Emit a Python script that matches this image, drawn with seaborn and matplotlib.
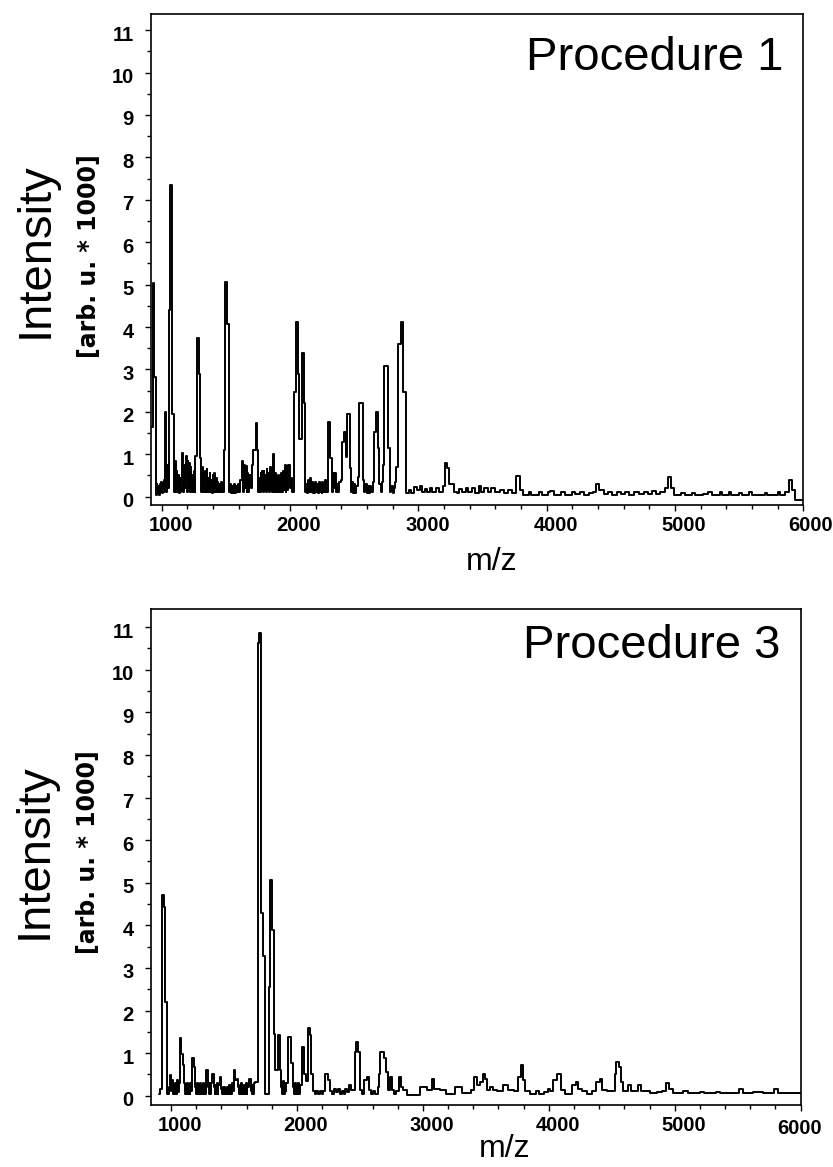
import matplotlib
matplotlib.use("Agg")
import matplotlib.pyplot as plt
import pandas as pd
import seaborn as sns
from matplotlib.ticker import FixedLocator, MultipleLocator
from matplotlib.transforms import ScaledTranslation

# ---------------------------------------------------------------------------
# Spectra as step data: each m/z value starts a bin whose intensity
# (arb. u. * 1000) holds until the next m/z value.
# ---------------------------------------------------------------------------
p1_mz = [
    918, 929, 942, 955, 961, 967, 973, 979, 985, 991,
    997, 1003, 1009, 1015, 1020, 1026, 1031, 1036, 1041, 1048,
    1055, 1068, 1081, 1092, 1099, 1104, 1110, 1116, 1122, 1128,
    1134, 1140, 1146, 1152, 1160, 1166, 1172, 1178, 1184, 1190,
    1196, 1202, 1208, 1214, 1220, 1226, 1232, 1238, 1244, 1250,
    1256, 1262, 1272, 1288, 1301, 1307, 1313, 1319, 1325, 1331,
    1337, 1343, 1349, 1355, 1361, 1367, 1373, 1379, 1385, 1391,
    1397, 1403, 1409, 1415, 1421, 1427, 1433, 1440, 1448, 1456,
    1464, 1472, 1482, 1492, 1508, 1524, 1532, 1540, 1548, 1556,
    1564, 1572, 1580, 1588, 1596, 1604, 1612, 1623, 1630, 1638,
    1646, 1654, 1662, 1668, 1676, 1684, 1692, 1700, 1715, 1734,
    1740, 1752, 1758, 1764, 1770, 1776, 1782, 1788, 1794, 1800,
    1806, 1812, 1818, 1824, 1830, 1836, 1842, 1848, 1854, 1860,
    1868, 1876, 1882, 1888, 1894, 1900, 1906, 1912, 1918, 1924,
    1930, 1936, 1942, 1950, 1958, 1966, 1972, 1980, 1988, 1998,
    2008, 2016, 2029, 2047, 2060, 2073, 2094, 2107, 2120, 2127,
    2134, 2141, 2148, 2155, 2162, 2169, 2176, 2183, 2190, 2197,
    2204, 2211, 2218, 2225, 2232, 2239, 2246, 2253, 2260, 2270,
    2280, 2293, 2310, 2325, 2333, 2341, 2349, 2357, 2365, 2373,
    2381, 2395, 2408, 2421, 2435, 2446, 2465, 2475, 2482, 2490,
    2498, 2506, 2514, 2528, 2539, 2571, 2580, 2588, 2596, 2604,
    2612, 2620, 2630, 2645, 2657, 2670, 2683, 2696, 2706, 2714,
    2723, 2736, 2762, 2780, 2790, 2800, 2810, 2820, 2827, 2840,
    2861, 2880, 2906, 2930, 2945, 2970, 2990, 3010, 3025, 3050,
    3070, 3090, 3110, 3140, 3160, 3190, 3207, 3220, 3241, 3260,
    3280, 3300, 3320, 3340, 3370, 3390, 3420, 3440, 3470, 3490,
    3510, 3540, 3570, 3600, 3640, 3670, 3700, 3730, 3763, 3789,
    3815, 3860, 3880, 3940, 3960, 4010, 4030, 4060, 4110, 4140,
    4200, 4220, 4260, 4290, 4330, 4360, 4385, 4411, 4450, 4480,
    4510, 4550, 4580, 4610, 4640, 4680, 4720, 4760, 4790, 4820,
    4850, 4880, 4920, 4943, 4969, 4990, 5050, 5080, 5130, 5160,
    5220, 5260, 5290, 5350, 5370, 5420, 5440, 5500, 5520, 5580,
    5600, 5640, 5700, 5720, 5800, 5820, 5860, 5889, 5915, 5935,
    6000,
]
p1_int = [
    1.65, 5.03, 2.83, 0.05, 0.30, 0.08, 0.25, 0.05, 0.30, 0.10,
    0.35, 0.08, 0.30, 0.10, 0.40, 2.00, 0.80, 0.10, 0.75, 0.20,
    4.40, 7.34, 1.96, 0.90, 0.10, 0.85, 0.10, 0.60, 0.10, 0.50,
    0.08, 0.45, 0.10, 0.40, 1.02, 0.10, 0.75, 0.20, 0.55, 0.95,
    0.10, 0.85, 0.20, 0.80, 0.10, 0.70, 0.10, 0.50, 0.10, 0.60,
    0.10, 0.95, 3.73, 2.90, 0.90, 0.10, 0.70, 0.10, 0.55, 0.10,
    0.60, 0.10, 0.65, 0.10, 0.45, 0.10, 0.55, 0.10, 0.40, 0.08,
    0.50, 0.10, 0.55, 0.10, 0.45, 0.10, 0.35, 0.10, 0.30, 0.10,
    0.35, 0.10, 1.10, 5.07, 4.08, 0.10, 0.30, 0.08, 0.25, 0.08,
    0.30, 0.08, 0.25, 0.10, 0.30, 0.10, 0.40, 0.85, 0.10, 0.75,
    0.20, 0.72, 0.10, 0.55, 0.10, 0.50, 0.20, 0.75, 1.10, 1.73,
    1.10, 0.10, 0.45, 0.10, 0.55, 0.20, 0.60, 0.10, 0.60, 0.15,
    0.50, 0.10, 0.65, 0.15, 0.55, 0.10, 0.70, 0.15, 0.50, 0.10,
    1.00, 0.10, 0.55, 0.10, 0.45, 0.10, 0.50, 0.10, 0.45, 0.10,
    0.55, 0.10, 0.60, 0.15, 0.75, 0.10, 0.70, 0.15, 0.75, 0.20,
    0.45, 0.10, 2.47, 4.12, 2.90, 1.37, 3.38, 2.20, 0.10, 0.30,
    0.08, 0.40, 0.10, 0.45, 0.10, 0.35, 0.08, 0.30, 0.08, 0.35,
    0.10, 0.30, 0.08, 0.35, 0.10, 0.30, 0.08, 0.35, 0.10, 0.40,
    0.10, 1.77, 0.90, 0.10, 0.55, 0.20, 0.55, 0.10, 0.30, 0.10,
    0.35, 0.40, 1.30, 1.53, 0.94, 1.96, 0.67, 0.10, 0.35, 0.08,
    0.30, 0.08, 0.25, 0.47, 2.20, 0.40, 0.10, 0.30, 0.08, 0.25,
    0.08, 0.25, 0.10, 0.35, 1.53, 2.00, 1.14, 0.30, 0.10, 0.35,
    0.75, 3.08, 1.14, 0.10, 0.25, 0.08, 0.20, 0.35, 0.70, 3.61,
    4.12, 2.47, 0.08, 0.15, 0.08, 0.22, 0.15, 0.25, 0.10, 0.18,
    0.10, 0.20, 0.12, 0.20, 0.10, 0.25, 0.79, 0.67, 0.31, 0.30,
    0.12, 0.08, 0.18, 0.10, 0.20, 0.10, 0.20, 0.08, 0.25, 0.12,
    0.20, 0.10, 0.20, 0.12, 0.16, 0.08, 0.15, 0.08, 0.49, 0.16,
    0.04, 0.10, 0.04, 0.12, 0.04, 0.10, 0.14, 0.04, 0.12, 0.04,
    0.12, 0.06, 0.10, 0.04, 0.08, 0.12, 0.31, 0.16, 0.06, 0.12,
    0.04, 0.10, 0.06, 0.12, 0.05, 0.10, 0.06, 0.12, 0.06, 0.14,
    0.06, 0.12, 0.20, 0.47, 0.20, 0.05, 0.08, 0.04, 0.08, 0.04,
    0.06, 0.12, 0.04, 0.10, 0.04, 0.10, 0.04, 0.08, 0.04, 0.10,
    0.04, 0.04, 0.08, 0.04, 0.10, 0.04, 0.12, 0.39, 0.15, -0.08,
    -0.08,
]

p3_mz = [
    905, 915, 929, 942, 955, 968, 981, 989, 1000, 1008,
    1014, 1020, 1026, 1032, 1038, 1044, 1050, 1056, 1062, 1069,
    1079, 1093, 1106, 1112, 1118, 1124, 1130, 1136, 1142, 1148,
    1154, 1160, 1167, 1180, 1193, 1199, 1205, 1211, 1217, 1223,
    1229, 1235, 1241, 1247, 1253, 1259, 1265, 1271, 1278, 1294,
    1300, 1306, 1312, 1318, 1325, 1339, 1345, 1351, 1357, 1363,
    1369, 1375, 1386, 1400, 1406, 1412, 1418, 1424, 1430, 1436,
    1442, 1448, 1454, 1460, 1466, 1472, 1478, 1484, 1490, 1497,
    1511, 1520, 1534, 1540, 1546, 1552, 1558, 1564, 1570, 1576,
    1582, 1588, 1594, 1600, 1606, 1617, 1635, 1641, 1647, 1653,
    1659, 1669, 1688, 1701, 1714, 1728, 1744, 1775, 1789, 1802,
    1815, 1828, 1847, 1862, 1875, 1882, 1889, 1896, 1903, 1910,
    1916, 1929, 1955, 1968, 1975, 1982, 1989, 1996, 2003, 2010,
    2017, 2024, 2037, 2053, 2070, 2088, 2101, 2114, 2127, 2140,
    2150, 2165, 2180, 2195, 2210, 2225, 2244, 2265, 2280, 2295,
    2310, 2325, 2340, 2355, 2370, 2385, 2400, 2410, 2429, 2458,
    2469, 2482, 2498, 2515, 2535, 2556, 2569, 2585, 2600, 2620,
    2640, 2650, 2662, 2688, 2707, 2720, 2741, 2754, 2770, 2790,
    2807, 2826, 2845, 2873, 2979, 3032, 3072, 3090, 3138, 3180,
    3257, 3310, 3380, 3403, 3427, 3450, 3479, 3492, 3511, 3530,
    3560, 3590, 3638, 3678, 3720, 3757, 3776, 3791, 3810, 3850,
    3900, 3920, 3960, 3990, 4010, 4034, 4066, 4100, 4130, 4180,
    4214, 4232, 4260, 4300, 4340, 4378, 4404, 4425, 4460, 4490,
    4523, 4536, 4554, 4570, 4589, 4628, 4655, 4680, 4708, 4734,
    4800, 4860, 4900, 4932, 4958, 4985, 5064, 5104, 5200, 5230,
    5330, 5360, 5440, 5513, 5540, 5620, 5700, 5790, 5816, 6000,
]
p3_int = [
    0.05, 0.17, 4.71, 4.44, 2.21, 0.05, 0.20, 0.49, 0.10, 0.37,
    0.05, 0.25, 0.05, 0.30, 0.05, 0.25, 0.37, 0.08, 0.30, 1.35,
    0.99, 0.72, 0.29, 0.05, 0.25, 0.05, 0.30, 0.05, 0.20, 0.05,
    0.30, 0.10, 0.88, 0.68, 0.21, 0.05, 0.30, 0.05, 0.25, 0.05,
    0.30, 0.05, 0.25, 0.05, 0.30, 0.05, 0.25, 0.05, 0.60, 0.21,
    0.05, 0.30, 0.05, 0.30, 0.52, 0.20, 0.05, 0.25, 0.05, 0.30,
    0.05, 0.25, 0.45, 0.15, 0.05, 0.20, 0.05, 0.20, 0.05, 0.15,
    0.05, 0.20, 0.05, 0.25, 0.05, 0.25, 0.05, 0.30, 0.10, 0.60,
    0.37, 0.40, 0.20, 0.05, 0.25, 0.05, 0.30, 0.05, 0.20, 0.05,
    0.25, 0.05, 0.30, 0.05, 0.20, 0.40, 0.12, 0.05, 0.25, 0.05,
    0.30, 0.33, 10.63, 10.86, 4.28, 3.27, 0.05, 2.56, 5.07, 3.89,
    1.46, 0.60, 1.43, 0.60, 0.20, 0.05, 0.35, 0.05, 0.30, 0.10,
    0.30, 1.39, 0.76, 0.20, 0.05, 0.30, 0.05, 0.25, 0.05, 0.30,
    0.05, 0.25, 1.15, 0.52, 0.35, 1.58, 1.43, 0.52, 0.10, 0.05,
    0.12, 0.05, 0.10, 0.05, 0.12, 0.52, 0.37, 0.12, 0.05, 0.15,
    0.08, 0.15, 0.05, 0.12, 0.05, 0.15, 0.08, 0.25, 0.13, 1.03,
    1.27, 1.03, 0.13, 0.05, 0.37, 0.45, 0.13, 0.05, 0.10, 0.05,
    0.20, 0.52, 1.03, 0.88, 0.56, 0.13, 0.45, 0.13, 0.05, 0.10,
    0.45, 0.21, 0.13, 0.02, 0.21, 0.13, 0.40, 0.17, 0.13, 0.05,
    0.20, 0.07, 0.13, 0.45, 0.25, 0.33, 0.52, 0.40, 0.13, 0.21,
    0.13, 0.10, 0.25, 0.13, 0.10, 0.45, 0.72, 0.37, 0.10, 0.05,
    0.10, 0.05, 0.08, 0.15, 0.10, 0.37, 0.52, 0.13, 0.05, 0.25,
    0.33, 0.17, 0.10, 0.05, 0.12, 0.33, 0.40, 0.13, 0.10, 0.12,
    0.52, 0.80, 0.68, 0.33, 0.10, 0.25, 0.10, 0.12, 0.25, 0.10,
    0.07, 0.08, 0.10, 0.29, 0.17, 0.07, 0.12, 0.07, 0.09, 0.07,
    0.09, 0.07, 0.07, 0.17, 0.07, 0.08, 0.07, 0.17, 0.07, 0.07,
]

x_ticks = [1000, 2000, 3000, 4000, 5000, 6000]
x_tick_labels = ["1000", "2000", "3000", "4000", "5000", "6000"]
y_ticks = list(range(0, 12))
y_tick_labels = [str(v) for v in y_ticks]
panel_titles = ["Procedure 1", "Procedure 3"]

# ---------------------------------------------------------------------------
sns.set_theme(style="ticks")
plt.rcParams["font.family"] = ["Liberation Sans", "DejaVu Sans"]
plt.rcParams["axes.edgecolor"] = "black"

DPI = 100
fig = plt.figure(figsize=(8.33, 11.67), dpi=DPI)
fig.patch.set_facecolor("white")

axes_specs = [
    dict(rect=[0.1809, 0.5673, 0.7834, 0.4207], xlim=(914, 6000), ylim=(-0.196, 11.38),
         ylab=(-0.177, 0.519), brk=(-0.094, 0.506), xlab=(0.522, -0.116), title_y=0.886),
    dict(rect=[0.1809, 0.0531, 0.7803, 0.4248], xlim=(838, 6000), ylim=(-0.218, 11.42),
         ylab=(-0.179, 0.512), brk=(-0.0957, 0.510), xlab=(0.544, -0.089), title_y=0.902),
]
spectra = [(p1_mz, p1_int), (p3_mz, p3_int)]


def shift(label, dx_px, dy_px):
    label.set_transform(label.get_transform()
                        + ScaledTranslation(dx_px / DPI, -dy_px / DPI, fig.dpi_scale_trans))


for i, (spec, (mz, inten), title) in enumerate(zip(axes_specs, spectra, panel_titles)):
    ax = fig.add_axes(spec["rect"])
    df = pd.DataFrame({"m/z": mz, "Intensity": inten})
    sns.lineplot(data=df, x="m/z", y="Intensity", ax=ax, estimator=None,
                 drawstyle="steps-post", color="black", linewidth=1.4)

    ax.set_xlim(*spec["xlim"])
    ax.set_ylim(*spec["ylim"])
    for side in ["top", "right", "bottom", "left"]:
        ax.spines[side].set_visible(True)
        ax.spines[side].set_linewidth(1.2)
        ax.spines[side].set_color("black")

    ax.xaxis.set_major_locator(FixedLocator(x_ticks))
    ax.xaxis.set_minor_locator(MultipleLocator(200))
    ax.yaxis.set_major_locator(FixedLocator(y_ticks))
    ax.yaxis.set_minor_locator(MultipleLocator(0.5))
    ax.set_xticklabels(x_tick_labels)
    ax.set_yticklabels(y_tick_labels)

    ax.tick_params(axis="both", which="both", direction="out", color="black",
                   top=False, right=False, width=1.0)
    ax.tick_params(axis="both", which="major", length=4.2, labelsize=14.5)
    ax.tick_params(axis="both", which="minor", length=3.0)
    ax.tick_params(axis="x", which="major", pad=3.5)
    ax.tick_params(axis="y", which="major", pad=8.0)
    for lab in ax.get_xticklabels() + ax.get_yticklabels():
        lab.set_fontweight("bold")
        lab.set_color("black")

    # tick label placement
    for lab in ax.get_xticklabels():
        shift(lab, 9, 0)
    last = ax.get_xticklabels()[-1]
    if i == 0:
        shift(last, -2, 0)
    else:
        shift(last, -10, 3)
    for lab in ax.get_yticklabels():
        shift(lab, 0, 3)

    ax.set_xlabel("m/z", fontsize=23, color="black")
    ax.xaxis.set_label_coords(*spec["xlab"])
    ax.xaxis.label.set_verticalalignment("center")

    ax.set_ylabel("Intensity", fontsize=34, color="black")
    ax.yaxis.set_label_coords(*spec["ylab"])
    ax.yaxis.label.set_verticalalignment("center")

    ax.text(*spec["brk"], "[arb. u. * 1000]", transform=ax.transAxes, rotation=90,
            ha="center", va="center", rotation_mode="anchor",
            family="DejaVu Sans", fontweight="bold", fontsize=17, color="black")

    ax.text(0.969, spec["title_y"], title, transform=ax.transAxes,
            ha="right", va="baseline", fontsize=34, color="black")

fig.savefig("out.png", dpi=DPI, facecolor="white")
